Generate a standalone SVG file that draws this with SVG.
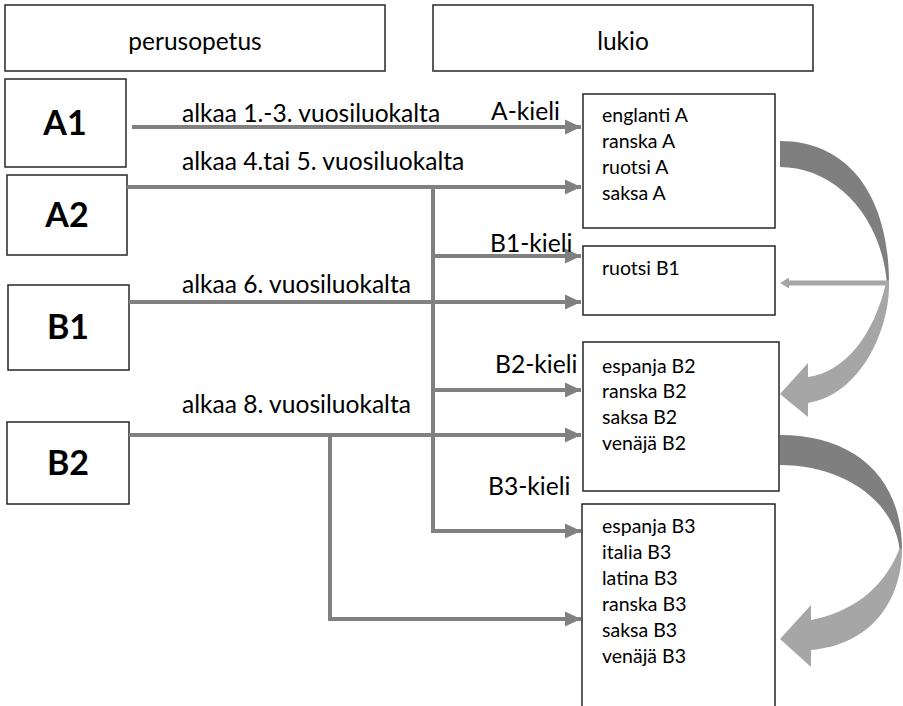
<svg xmlns="http://www.w3.org/2000/svg" width="903" height="706" viewBox="0 0 903 706">
<defs>
<style>
.box{fill:#fff;stroke:#262626;stroke-width:1.5}
.hdr{font-family:Lato,"Liberation Sans",sans-serif;font-size:24.5px;fill:#000;text-anchor:middle}
.big{font-family:Lato,"Liberation Sans",sans-serif;font-size:34px;font-weight:bold;fill:#000;text-anchor:middle}
.lbl{font-family:Lato,"Liberation Sans",sans-serif;font-size:24.6px;fill:#000}
.lst{font-family:Lato,"Liberation Sans",sans-serif;font-size:19.5px;fill:#000}
.con{fill:none;stroke:#808080;stroke-width:4;marker-end:url(#ah)}
.dk{fill:#7f7f7f}
.lt{fill:#a6a6a6}
</style>
<marker id="ah" markerUnits="userSpaceOnUse" markerWidth="18" markerHeight="16" refX="16" refY="8" orient="auto">
<path d="M0,0.5 L16,8 L0,15.5 Z" fill="#808080"/>
</marker>
<marker id="ah2" markerUnits="userSpaceOnUse" markerWidth="10" markerHeight="12" refX="0" refY="6" orient="auto">
<path d="M0,0.5 L9,6 L0,11.5 Z" fill="#a6a6a6"/>
</marker>
</defs>

<g id="hdr-perusopetus"><rect class="box" x="5" y="5" width="380" height="66"/><text class="hdr" x="195" y="50">perusopetus</text></g>
<g id="hdr-lukio"><rect class="box" x="433" y="5" width="380" height="66"/><text class="hdr" x="623" y="50">lukio</text></g>

<g id="node-A1"><rect class="box" x="5" y="79" width="121" height="88"/><text class="big" x="65" y="135">A1</text></g>
<g id="node-A2"><rect class="box" x="7" y="175" width="120" height="80"/><text class="big" x="67" y="227">A2</text></g>
<g id="node-B1"><rect class="box" x="8" y="285" width="121" height="85"/><text class="big" x="68" y="339">B1</text></g>
<g id="node-B2"><rect class="box" x="7" y="422" width="122" height="82"/><text class="big" x="68" y="475">B2</text></g>

<g id="node-lA"><rect class="box" x="583" y="94" width="192" height="134"/>
<text class="lst" x="602" y="122">englanti A</text>
<text class="lst" x="602" y="148">ranska A</text>
<text class="lst" x="602" y="174">ruotsi A</text>
<text class="lst" x="602" y="200">saksa A</text></g>
<g id="node-lB1"><rect class="box" x="583" y="246" width="192" height="69"/>
<text class="lst" x="602" y="275">ruotsi B1</text></g>
<g id="node-lB2"><rect class="box" x="583" y="342" width="196" height="149"/>
<text class="lst" x="602" y="373">espanja B2</text>
<text class="lst" x="602" y="398">ranska B2</text>
<text class="lst" x="602" y="424">saksa B2</text>
<text class="lst" x="602" y="450">venäjä B2</text></g>
<g id="node-lB3"><rect class="box" x="582" y="504" width="193" height="210"/>
<text class="lst" x="602" y="533">espanja B3</text>
<text class="lst" x="602" y="559">italia B3</text>
<text class="lst" x="602" y="585">latina B3</text>
<text class="lst" x="602" y="611">ranska B3</text>
<text class="lst" x="602" y="637">saksa B3</text>
<text class="lst" x="602" y="663">venäjä B3</text></g>

<g id="connectors">
<path class="con" d="M132,127 H581"/>
<path class="con" d="M127,187 H581"/>
<path class="con" d="M433,187 V531 H581"/>
<path class="con" d="M433,256 H581"/>
<path class="con" d="M129,302 H581"/>
<path class="con" d="M433,390 H581"/>
<path class="con" d="M129,435 H581"/>
<path class="con" d="M330,435 V619 H581"/>

<path class="dk" d="M780,141 C848,141 889,195 889,283 L887,284 C881,212 832,167 780,167 Z"/>
<path class="lt" d="M889,283 C890,330 860,395 808,403 L808,417 L780,394 L808,363 L808,377 C845,372 874,335 886,283 Z"/>
<path d="M889,283 H789" fill="none" stroke="#a6a6a6" stroke-width="5" marker-end="url(#ah2)"/>

<path class="dk" d="M780,435 C852,435 902,475 902,550 L900,553 C896,500 842,465 780,465 Z"/>
<path class="lt" d="M902,548 C902,602 870,645 811,650 L811,667 L780,639 L811,605 L811,620 C848,613 882,592 899,550 Z"/>
</g>

<g id="labels">
<text class="lbl" x="182" y="122">alkaa 1.-3. vuosiluokalta</text>
<text class="lbl" x="491" y="120">A-kieli</text>
<text class="lbl" x="182" y="170">alkaa 4.tai 5. vuosiluokalta</text>
<text class="lbl" x="490" y="252">B1-kieli</text>
<text class="lbl" x="182" y="293">alkaa 6. vuosiluokalta</text>
<text class="lbl" x="495" y="373">B2-kieli</text>
<text class="lbl" x="182" y="413">alkaa 8. vuosiluokalta</text>
<text class="lbl" x="488" y="495">B3-kieli</text>
</g>
</svg>
